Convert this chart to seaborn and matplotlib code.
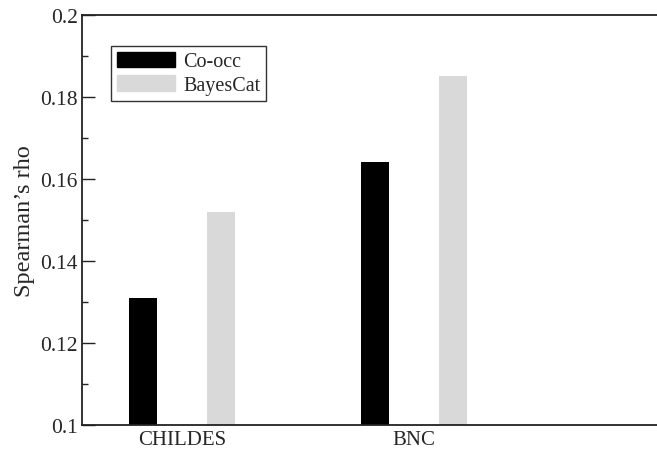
import pandas as pd
import matplotlib.pyplot as plt
import seaborn as sns
from matplotlib.ticker import MultipleLocator

# 데이터
corpora = ['CHILDES', 'BNC']
models = ['Co-occ', 'BayesCat']
co_occ = [0.131, 0.164]
bayescat = [0.152, 0.185]
colors = ['#000000', '#d9d9d9']

df = pd.DataFrame({
    'corpus': corpora * 2,
    'model': [models[0]] * 2 + [models[1]] * 2,
    'rho': co_occ + bayescat,
})

sns.set_style('white')
plt.rcParams['font.family'] = ['Liberation Serif', 'DejaVu Serif']

fig = plt.figure(figsize=(6.57, 4.52), dpi=100)
ax = fig.add_axes([0.1248, 0.0586, 0.8752, 0.906])

sns.barplot(data=df, x='corpus', y='rho', hue='model', hue_order=models,
            order=corpora, palette=colors, width=0.672, gap=0.643,
            edgecolor='none', linewidth=0, ax=ax, legend=False)

ax.set_ylim(0.1, 0.2)
ax.set_xlim(-0.431, 2.047)
ax.yaxis.set_minor_locator(MultipleLocator(0.01))
ax.set_yticks([0.1, 0.12, 0.14, 0.16, 0.18, 0.2])
ax.set_yticklabels(['0.1', '0.12', '0.14', '0.16', '0.18', '0.2'])
ax.tick_params(axis='y', which='major', direction='in', length=9, width=1,
               left=True, labelsize=15.5, pad=3, color='#222222')
ax.tick_params(axis='y', which='minor', direction='in', length=4.5, width=1,
               left=True, color='#222222')
ax.tick_params(axis='x', length=0, labelsize=15, pad=4)

ax.set_xlabel('')
ax.set_ylabel('Spearman’s rho', fontsize=17.5, labelpad=4)

for side in ['left', 'bottom', 'top']:
    ax.spines[side].set_visible(True)
    ax.spines[side].set_color('#222222')
    ax.spines[side].set_linewidth(1.3)
ax.spines['right'].set_visible(False)

# 범례
handles = [plt.Rectangle((0, 0), 1, 1, color=c) for c in colors]
leg = ax.legend(handles, models, loc='upper left', bbox_to_anchor=(0.05, 0.925),
                fontsize=14.5, frameon=True, fancybox=False, handlelength=2.9,
                handleheight=0.8, labelspacing=0.2, handletextpad=0.4,
                borderpad=0.3, borderaxespad=0)
leg.get_frame().set_edgecolor('black')
leg.get_frame().set_linewidth(1)

fig.savefig('out.png', dpi=100)
